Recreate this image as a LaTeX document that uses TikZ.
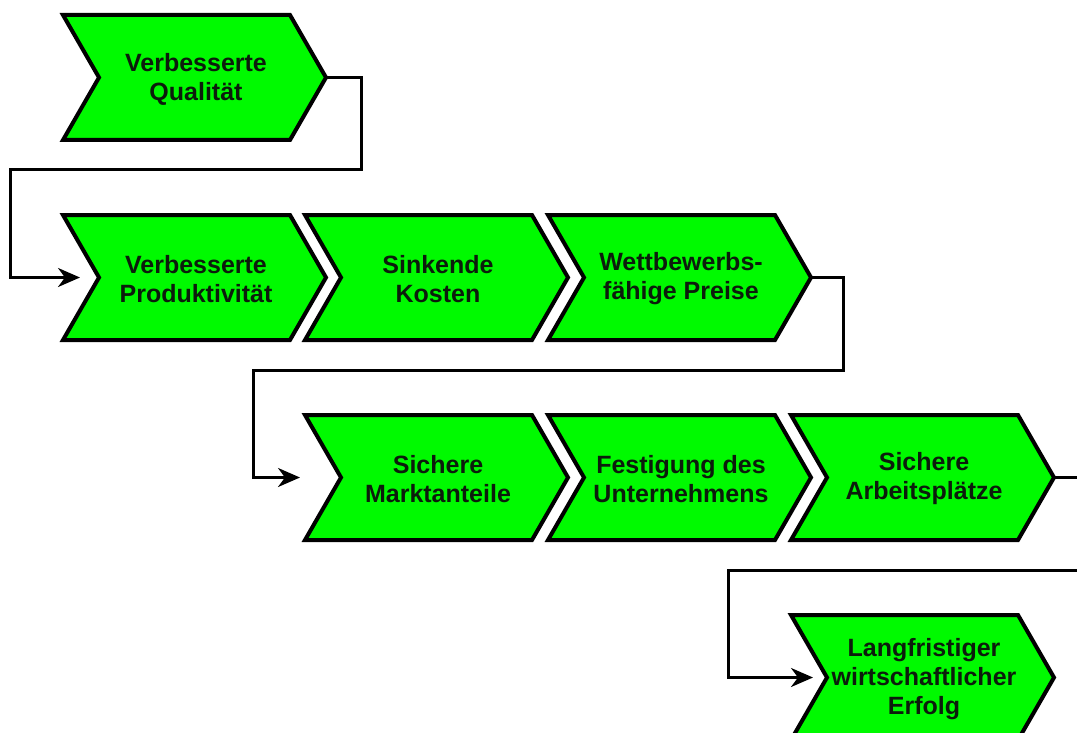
\documentclass[tikz,border=0pt]{standalone}
\usepackage{fontspec}
\setmainfont{Liberation Sans}
\usetikzlibrary{arrows.meta}

\definecolor{chevgreen}{RGB}{0,250,0}
\definecolor{chevink}{RGB}{12,28,12}

\tikzset{
  chevron/.style={draw=black, fill=chevgreen, line width=4pt, line join=miter},
  chevtext/.style={align=center, text=chevink, inner sep=0pt,
    font=\fontsize{25}{29}\selectfont\bfseries},
  link/.style={draw=black, line width=3pt,
    -{Stealth[length=22pt,width=19pt,inset=7pt]}},
}

% #1 name, #2 left x, #3 top y, #4 text
\newcommand{\chevstep}[4]{%
  \draw[chevron] (#2,#3) -- ++(227,0) -- ++(36,62.5) -- ++(-36,62.5)
    -- ++(-227,0) -- ++(36,-62.5) -- cycle;
  \node[chevtext] (#1) at (#2+133,#3+64) {#4};
  \coordinate (#1-tip) at (#2+263,#3+62.5);
  \coordinate (#1-notch) at (#2+36,#3+62.5);
}

\begin{document}
\begin{tikzpicture}[x=1pt,y=-1pt]
  \useasboundingbox (0,0) rectangle (1077,733);
  \fill[white] (0,0) rectangle (1077,733);
  \clip (0,0) rectangle (1077,733);

  % first row
  \chevstep{qual}{63}{15}{Verbesserte\\Qualität}

  % second row
  \chevstep{prod}{63}{215}{Verbesserte\\Produktivität}
  \chevstep{kost}{305}{215}{Sinkende\\Kosten}
  \chevstep{preis}{548}{215}{Wettbewerbs-\\fähige Preise}

  % third row
  \chevstep{markt}{305}{415}{Sichere\\Marktanteile}
  \chevstep{fest}{548}{415}{Festigung des\\Unternehmens}
  \chevstep{arb}{791}{415}{Sichere\\Arbeitsplätze}

  % fourth row
  \chevstep{erfolg}{791}{615}{Langfristiger\\wirtschaftlicher\\Erfolg}

  % connectors between the rows
  \draw[link] (qual-tip) -| (361,170) -| (10,277.5) -- ([xshift=-19pt]prod-notch);
  \draw[link] (preis-tip) -| (843,370) -| (253,477.5) -- ([xshift=-41pt]markt-notch);
  \draw[link] (arb-tip) -| (1095,570) -| (728,677.5) -- ([xshift=-14pt]erfolg-notch);
\end{tikzpicture}
\end{document}
